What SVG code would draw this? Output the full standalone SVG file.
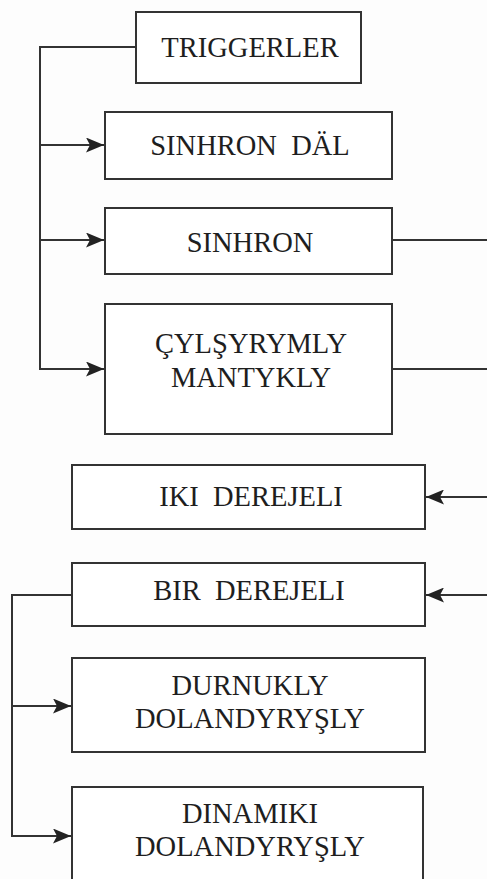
<svg xmlns="http://www.w3.org/2000/svg" width="487" height="879" viewBox="0 0 487 879">
<defs>
<style>
.box{fill:#ffffff;stroke:#333333;stroke-width:2}
.lbl{font-family:"Liberation Serif","Times New Roman",serif;font-size:28.5px;fill:#1e1e1e;text-anchor:middle}
.ln{fill:none;stroke:#333333;stroke-width:2}
</style>
<marker id="arr" viewBox="0 0 18 15" refX="18" refY="7.5" markerWidth="18" markerHeight="15" markerUnits="userSpaceOnUse" orient="auto">
<path d="M0,0 L18,7.5 L0,15 L4,7.5 Z" fill="#222222"/>
</marker>
</defs>
<rect x="0" y="0" width="487" height="879" fill="#fdfdfd"/>
<g id="connectors">
<polyline class="ln" points="136,47 40,47 40,369 104,369" marker-end="url(#arr)"/>
<line class="ln" x1="40" y1="145" x2="104" y2="145" marker-end="url(#arr)"/>
<line class="ln" x1="40" y1="240" x2="104" y2="240" marker-end="url(#arr)"/>
<line class="ln" x1="392" y1="240" x2="487" y2="240"/>
<line class="ln" x1="392" y1="369" x2="487" y2="369"/>
<line class="ln" x1="487" y1="497" x2="426" y2="497" marker-end="url(#arr)"/>
<line class="ln" x1="487" y1="595" x2="426" y2="595" marker-end="url(#arr)"/>
<polyline class="ln" points="72,595 12,595 12,836 71,836" marker-end="url(#arr)"/>
<line class="ln" x1="12" y1="706" x2="71" y2="706" marker-end="url(#arr)"/>
</g>
<g id="triggerler">
<rect class="box" x="136" y="12" width="225" height="71"/>
<text class="lbl" x="250" y="57">TRIGGERLER</text>
</g>
<g id="sinhron-dal">
<rect class="box" x="105" y="112" width="287" height="67"/>
<text class="lbl" x="250" y="155" xml:space="preserve">SINHRON  DÄL</text>
</g>
<g id="sinhron">
<rect class="box" x="105" y="208" width="287" height="66"/>
<text class="lbl" x="250" y="252">SINHRON</text>
</g>
<g id="cylsyrymly">
<rect class="box" x="105" y="304" width="287" height="130"/>
<text class="lbl" x="251" y="353">ÇYLŞYRYMLY</text>
<text class="lbl" x="251" y="387">MANTYKLY</text>
</g>
<g id="iki-derejeli">
<rect class="box" x="72" y="465" width="353" height="64"/>
<text class="lbl" x="251" y="506" xml:space="preserve">IKI  DEREJELI</text>
</g>
<g id="bir-derejeli">
<rect class="box" x="72" y="563" width="353" height="63"/>
<text class="lbl" x="249" y="600" xml:space="preserve">BIR  DEREJELI</text>
</g>
<g id="durnukly">
<rect class="box" x="72" y="658" width="353" height="94"/>
<text class="lbl" x="250" y="695">DURNUKLY</text>
<text class="lbl" x="250" y="728">DOLANDYRYŞLY</text>
</g>
<g id="dinamiki">
<rect class="box" x="72" y="787" width="351" height="110"/>
<text class="lbl" x="250" y="823">DINAMIKI</text>
<text class="lbl" x="250" y="856">DOLANDYRYŞLY</text>
</g>
</svg>
